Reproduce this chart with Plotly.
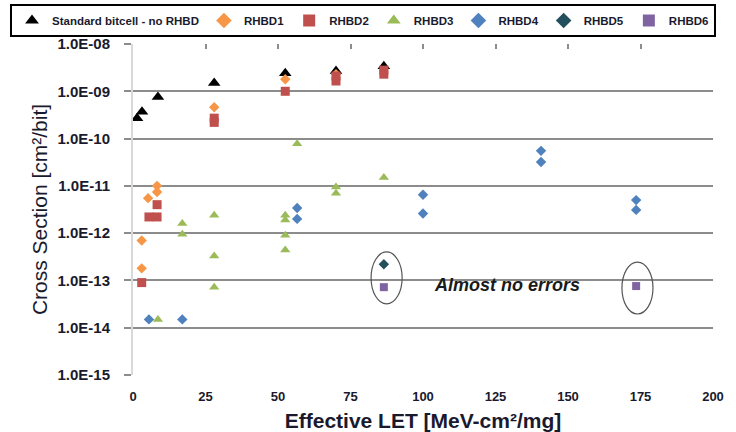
import plotly.graph_objects as go
import math

# ---- data (Effective LET [MeV-cm2/mg], cross section [cm2/bit]) ----
std_x = [1.4, 3.1, 8.6, 28, 52.5, 70, 86.5]
std_y = [2.7e-10, 3.7e-10, 7.6e-10, 1.5e-9, 2.4e-9, 2.7e-9, 3.4e-9]

r1_x = [3, 3, 5.2, 8.3, 8.3, 28, 52.5, 70]
r1_y = [7e-13, 1.8e-13, 5.5e-12, 1.0e-11, 7.4e-12, 4.6e-10, 1.8e-9, 2.3e-9]

r2_x = [3, 5.5, 8.3, 8.3, 28, 28, 52.5, 70, 70, 86.5, 86.5]
r2_y = [9e-14, 2.2e-12, 2.2e-12, 4e-12, 2.7e-10, 2.2e-10, 1.0e-9, 2.1e-9, 1.65e-9, 2.8e-9, 2.3e-9]

r3_x = [8.6, 17, 17, 28, 28, 28, 52.5, 52.5, 52.5, 52.5, 56.6, 70, 70, 86.5]
r3_y = [1.5e-14, 1.6e-12, 9.5e-13, 2.4e-12, 3.3e-13, 7.2e-14, 2.4e-12, 1.9e-12,
        9e-13, 4.4e-13, 7.8e-11, 9.5e-12, 7e-12, 1.5e-11]

r4_x = [5.5, 17, 56.6, 56.6, 100, 100, 140.7, 140.7, 173.5, 173.5]
r4_y = [1.5e-14, 1.5e-14, 3.4e-12, 2e-12, 6.5e-12, 2.6e-12, 5.5e-11, 3.2e-11, 5e-12, 3.1e-12]

r5_x = [86.5]
r5_y = [2.2e-13]

r6_x = [86.5, 173.5]
r6_y = [7.2e-14, 7.6e-14]

x_ticks = [0, 25, 50, 75, 100, 125, 150, 175, 200]
y_ticks = [1e-15, 1e-14, 1e-13, 1e-12, 1e-11, 1e-10, 1e-9, 1e-8]
y_tick_labels = ["1.0E-15", "1.0E-14", "1.0E-13", "1.0E-12",
                 "1.0E-11", "1.0E-10", "1.0E-09", "1.0E-08"]

note_text = "Almost no errors"
note_x = 129
note_y = 8.0e-14

# ellipses around the "almost no errors" points: (x0, x1, y_top, y_bottom)
ellipses = [(82.1, 92.8, 4.0e-13, 3.2e-14), (168.6, 179.3, 2.45e-13, 1.95e-14)]

Y_MIN_EXP, Y_MAX_EXP = -15, -8

# layout geometry (pixels)
W, H = 736, 432
ML, MR, MT, MB = 10, 0, 4, 57
PLOT_L, PLOT_R, PLOT_T = 133, 713, 44
x_dom = [(PLOT_L - ML) / (W - ML - MR), (PLOT_R - ML) / (W - ML - MR)]
y_dom = [0, (H - MB - PLOT_T) / (H - MB - MT)]


def ydom(v):
    return (math.log10(v) - Y_MIN_EXP) / (Y_MAX_EXP - Y_MIN_EXP)


fig = go.Figure()

series = [
    ("Standard bitcell - no RHBD", std_x, std_y, "#000000", "triangle-up", 11),
    ("RHBD1", r1_x, r1_y, "#F79646", "diamond", 8),
    ("RHBD2", r2_x, r2_y, "#C0504D", "square", 9),
    ("RHBD3", r3_x, r3_y, "#9BBB59", "triangle-up", 9),
    ("RHBD4", r4_x, r4_y, "#4F81BD", "diamond", 8),
    ("RHBD5", r5_x, r5_y, "#23505C", "diamond", 8),
    ("RHBD6", r6_x, r6_y, "#8064A2", "square", 8),
]
for name, xs, ys, col, sym, sz in series:
    fig.add_trace(go.Scatter(
        x=xs, y=ys, mode="markers", name=name,
        marker=dict(color=col, symbol=sym, size=sz, line=dict(width=0)),
    ))

# invisible trace for the top tick axis
fig.add_trace(go.Scatter(x=[0, 200], y=[1e-8, 1e-8], xaxis="x2", mode="markers",
                         marker=dict(opacity=0), showlegend=False, hoverinfo="skip"))

for x0, x1, yt, yb in ellipses:
    fig.add_shape(type="circle", xref="x", yref="y domain",
                  x0=x0, x1=x1, y0=ydom(yb), y1=ydom(yt),
                  line=dict(color="#555555", width=1.2))

fig.add_annotation(x=note_x, y=math.log10(note_y), text="<b><i>" + note_text + "</i></b>",
                   showarrow=False, font=dict(family="Liberation Sans", size=18, color="#1a1a1a"))

fig.update_layout(
    width=W, height=H,
    margin=dict(l=ML, r=MR, t=MT, b=MB, autoexpand=False),
    paper_bgcolor="white", plot_bgcolor="white",
    showlegend=True,
    legend=dict(
        orientation="h", x=0.0, xanchor="left", y=1.0, yanchor="top",
        bordercolor="#000000", borderwidth=2, bgcolor="white",
        font=dict(family="Liberation Sans", size=11.5, color="#1a1a2e", weight="bold"),
        itemsizing="constant", tracegroupgap=0,
    ),
    xaxis=dict(
        type="linear", range=[0, 200], tickvals=x_ticks, automargin=False, domain=x_dom,
        ticktext=["<b>%d</b>" % v for v in x_ticks],
        tickfont=dict(family="Liberation Sans", size=13, color="#1a1a2e"),
        showgrid=False, zeroline=False, showline=False,
        ticks="outside", ticklen=9, tickcolor="rgba(0,0,0,0)",
        title=dict(text="<b>Effective LET [MeV-cm²/mg]</b>",
                   font=dict(family="Liberation Sans", size=21, color="#1a1a2e"), standoff=10),
    ),
    xaxis2=dict(
        overlaying="x", side="top", anchor="y", range=[0, 200], tickvals=x_ticks[1:],
        showticklabels=False, ticks="inside", ticklen=5, tickwidth=2, tickcolor="#8c8c8c",
        showgrid=False, zeroline=False, showline=False, automargin=False,
    ),
    yaxis=dict(
        type="log", range=[Y_MIN_EXP, Y_MAX_EXP], tickvals=y_ticks, automargin=False,
        domain=y_dom,
        ticktext=["<b>%s</b>" % t for t in y_tick_labels],
        tickfont=dict(family="Liberation Sans", size=15, color="#1a1a2e"),
        showgrid=True, gridcolor="#8c8c8c", gridwidth=2,
        ticks="outside", ticklen=7, tickwidth=2, tickcolor="#8c8c8c",
        ticklabelstandoff=11,
        showline=True, linecolor="#d9d9d9", linewidth=2, zeroline=False,
        title=dict(text="Cross Section [cm²/bit]",
                   font=dict(family="Liberation Sans", size=21, color="#1a1a2e"), standoff=4),
    ),
)

# remove the page's default body margin so the figure sits at the window origin
fig.write_html("out.html", config={"displayModeBar": False},
               post_script="document.body.style.margin='0';")
